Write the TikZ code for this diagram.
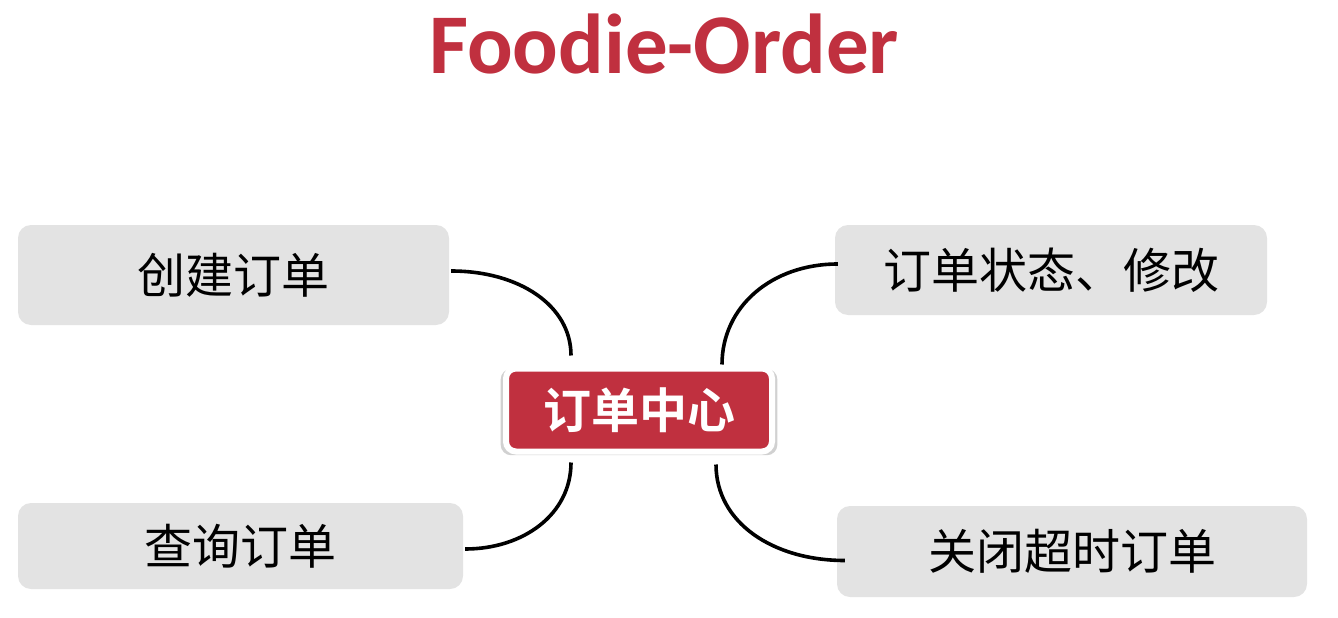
\documentclass[tikz,border=0pt]{standalone}
\usepackage{fontspec}
\setmainfont{Carlito}
\newfontfamily\cjk{Noto Sans CJK SC}
\newfontfamily\cjkbold{Noto Sans CJK SC Bold}
\usetikzlibrary{shadows}
\definecolor{brandred}{HTML}{C0303F}
\definecolor{boxgray}{HTML}{E3E3E3}
\tikzset{
  topic/.style={fill=boxgray, rounded corners=13pt, inner sep=0pt,
    font=\cjk\fontsize{48}{50}\selectfont, text=black},
  hub/.style={fill=brandred, draw=white, line width=6pt, rounded corners=10pt,
    inner sep=0pt, minimum width=266pt, minimum height=83pt,
    font=\cjkbold\fontsize{48}{50}\selectfont, text=white,
    drop shadow={shadow xshift=0pt, shadow yshift=-2pt, shadow scale=1.04, opacity=0.18, fill=black}},
  link/.style={draw=black, line width=3.6pt}
}
\begin{document}
\begin{tikzpicture}[x=1pt, y=-1pt]
\useasboundingbox (0,0) rectangle (1338,618);
\node[font=\bfseries\fontsize{85}{90}\selectfont, text=brandred] (title) at (664,44) {Foodie-Order};
\node[hub] (hub) at (639,410) {订单中心};
\node[topic, minimum width=431pt, minimum height=100pt] (create) at (233.5,275) {创建订单};
\node[topic, minimum width=445pt, minimum height=86pt] (query) at (240.5,546) {查询订单};
\node[topic, minimum width=432pt, minimum height=90pt] (status) at (1051,270) {订单状态、修改};
\node[topic, minimum width=470pt, minimum height=91pt] (close) at (1072,551.5) {关闭超时订单};
\draw[link] ([xshift=2pt,yshift=4pt]create.east) .. controls +(68,0) and +(0,-50) .. ([xshift=-68pt,yshift=10pt]hub.north);
\draw[link] ([xshift=2pt,yshift=-3pt]query.east) .. controls +(58,0) and +(0,52) .. ([xshift=-68pt,yshift=-8pt]hub.south);
\draw[link] ([xshift=3pt,yshift=6pt]status.west) .. controls +(-66,0) and +(0,-58) .. ([xshift=83pt,yshift=1pt]hub.north);
\draw[link] ([xshift=8pt,yshift=-9pt]close.west) .. controls +(-72,0) and +(0,58) .. ([xshift=77pt,yshift=-10pt]hub.south);
\end{tikzpicture}
\end{document}
